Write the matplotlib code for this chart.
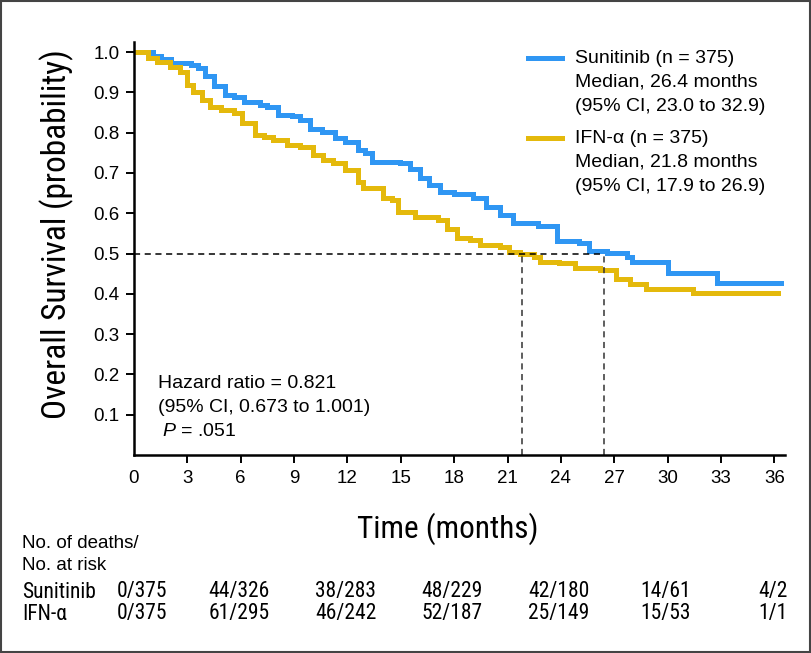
import matplotlib
matplotlib.use("Agg")
import matplotlib.pyplot as plt
from matplotlib import font_manager
from matplotlib.font_manager import FontProperties
from matplotlib.patches import Rectangle
from matplotlib.transforms import blended_transform_factory

plt.rcParams['font.family'] = ['Liberation Sans', 'DejaVu Sans']
plt.rcParams['mathtext.fontset'] = 'custom'
plt.rcParams['mathtext.it'] = 'Liberation Sans:italic'
plt.rcParams['mathtext.rm'] = 'Liberation Sans'


def first_font(names):
    for n in names:
        try:
            font_manager.findfont(FontProperties(family=n), fallback_to_default=False)
            return n
        except ValueError:
            pass
    return 'Liberation Sans'


NARROW = first_font(['Liberation Sans Narrow', 'Roboto Condensed', 'Noto Sans Condensed',
                     'DejaVu Sans Condensed', 'Open Sans Condensed'])

# Kaplan-Meier curves (months, survival probability)
suni_t = [0, 1.07, 1.5, 2.1, 3.2, 3.6, 4.0, 4.5, 5.1, 5.6, 6.2, 7.1, 7.5, 8.1, 8.9,
          9.33, 9.9, 10.55, 11.3, 11.86, 12.6, 13.0, 13.36, 14.95, 15.5, 16.1, 16.6,
          17.2, 18.0, 19.06, 19.8, 20.6, 21.3, 22.7, 23.8, 25.0, 25.6, 26.6, 27.7,
          28.0, 30.0, 32.8, 36.35]
suni_s = [1.0, 0.99, 0.982, 0.973, 0.968, 0.96, 0.94, 0.915, 0.893, 0.889, 0.877,
          0.868, 0.864, 0.844, 0.841, 0.831, 0.808, 0.802, 0.786, 0.777, 0.757,
          0.749, 0.728, 0.724, 0.71, 0.687, 0.67, 0.653, 0.648, 0.637, 0.615, 0.596,
          0.576, 0.568, 0.532, 0.527, 0.507, 0.501, 0.492, 0.48, 0.452, 0.428, 0.428]

ifn_t = [0, 0.8, 1.3, 2.0, 2.6, 3.0, 3.3, 3.8, 4.3, 4.9, 5.6, 6.1, 6.8, 7.3, 7.8,
         8.6, 9.33, 10.07, 10.6, 11.2, 11.86, 12.6, 12.9, 13.4, 14.0, 14.5, 14.85,
         15.8, 17.1, 17.6, 18.15, 18.9, 19.45, 20.6, 21.1, 21.7, 22.5, 22.8, 23.9,
         24.8, 26.2, 27.1, 27.9, 28.8, 31.4, 36.2]
ifn_s = [1.0, 0.985, 0.976, 0.964, 0.951, 0.918, 0.901, 0.88, 0.864, 0.856, 0.848,
         0.824, 0.794, 0.789, 0.782, 0.769, 0.765, 0.744, 0.733, 0.724, 0.707, 0.678,
         0.662, 0.662, 0.637, 0.633, 0.604, 0.591, 0.583, 0.56, 0.538, 0.534, 0.521,
         0.517, 0.504, 0.50, 0.492, 0.48, 0.476, 0.463, 0.459, 0.438, 0.425, 0.413,
         0.403, 0.403]

medians = [21.8, 26.4]

legend_lines = [["Sunitinib (n = 375)", "Median, 26.4 months", "(95% CI, 23.0 to 32.9)"],
                ["IFN-\u03b1 (n = 375)", "Median, 21.8 months", "(95% CI, 17.9 to 26.9)"]]
stats_lines = ["Hazard ratio = 0.821", "(95% CI, 0.673 to 1.001)", r"$\it{P}$ = .051"]

risk_times = [0, 6, 12, 18, 24, 30, 36]
risk_suni = ["0/375", "44/326", "38/283", "48/229", "42/180", "14/61", "4/2"]
risk_ifn = ["0/375", "61/295", "46/242", "52/187", "25/149", "15/53", "1/1"]

blue = "#2f96f3"
gold = "#e4b90c"

fig = plt.figure(figsize=(8.12, 6.53), dpi=100)
ax = fig.add_axes([134 / 812, 1 - 455 / 653, 651 / 812, 413 / 653])

ax.step(suni_t, suni_s, where='post', color=blue, lw=3.6, solid_joinstyle='miter')
ax.step(ifn_t, ifn_s, where='post', color=gold, lw=3.6, solid_joinstyle='miter')

# median guides
ax.plot([0, medians[1]], [0.5, 0.5], ls=(0, (4, 3)), color='black', lw=1.1)
for m in medians:
    ax.plot([m, m], [0, 0.5], ls=(0, (4, 3)), color='#333333', lw=1.1)

ax.set_xlim(0, 36.6)
ax.set_ylim(0, 1.025)
ax.set_xticks(range(0, 37, 3))
ax.set_yticks([0.1, 0.2, 0.3, 0.4, 0.5, 0.6, 0.7, 0.8, 0.9, 1.0])
ax.set_yticklabels(["0.1", "0.2", "0.3", "0.4", "0.5", "0.6", "0.7", "0.8", "0.9", "1.0"])
ax.tick_params(direction='out', length=5.5, width=1.4, labelsize=13.5, pad=5)
ax.xaxis.get_major_ticks()[0].tick1line.set_visible(False)
for side in ['top', 'right']:
    ax.spines[side].set_visible(False)
for side in ['left', 'bottom']:
    ax.spines[side].set_linewidth(1.8)

ax.set_ylabel("Overall Survival (probability)", family=NARROW, fontsize=24,
              va='center', ha='center')
ax.yaxis.set_label_coords(-0.118, 0.535)
ax.set_xlabel("Time (months)", family=NARROW, fontsize=22.5, va='center', ha='center')
ax.xaxis.set_label_coords(0.482, -0.178)

# legend drawn by hand so the key sits on the first line
for k, (lines, col) in enumerate(zip(legend_lines, [blue, gold])):
    y0 = 0.961 - k * 0.194
    ax.plot([0.605, 0.657], [y0, y0], color=col, lw=3.6, transform=ax.transAxes,
            clip_on=False)
    for i, s in enumerate(lines):
        ax.text(0.677, y0 - i * 0.058, s, transform=ax.transAxes, fontsize=14,
                va='center', ha='left')

for i, s in enumerate(stats_lines):
    ax.text(0.037 if i < 2 else 0.043, 0.172 - i * 0.058, s, transform=ax.transAxes,
            fontsize=14, va='center', ha='left')

# risk table
fig.text(22 / 812, 1 - 544 / 653, "No. of deaths/", fontsize=13.5, va='center')
fig.text(22 / 812, 1 - 566 / 653, "No. at risk", fontsize=13.5, va='center')
tr = blended_transform_factory(ax.transData, fig.transFigure)
for name, vals, ypx in [("Sunitinib", risk_suni, 592), ("IFN-\u03b1", risk_ifn, 614)]:
    fig.text(22 / 812, 1 - ypx / 653, name, family=NARROW, fontsize=15.5, va='center')
    for t, v in zip(risk_times, vals):
        ax.text(max(t - 0.1, 0.45), 1 - ypx / 653, v, transform=tr, family=NARROW,
                fontsize=15.5, va='center', ha='center')

fig.patches.append(Rectangle((0.001, 0.001), 0.997, 0.997, transform=fig.transFigure,
                             fill=False, edgecolor='#444444', lw=1.5))

fig.savefig("out.png", dpi=100)
